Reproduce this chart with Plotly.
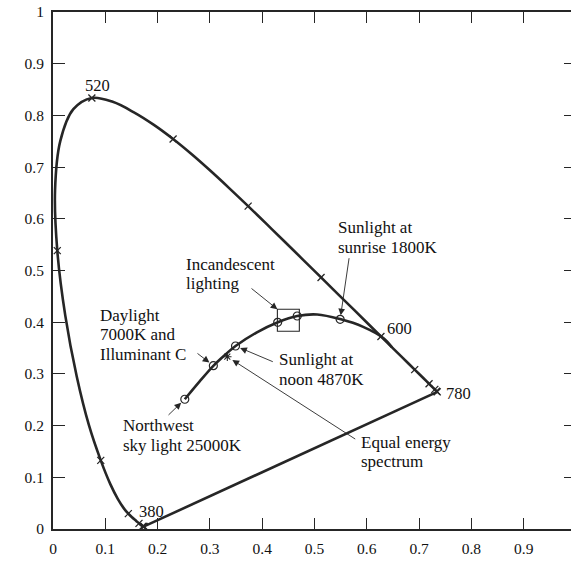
import plotly.graph_objects as go

# ---------------- data ----------------
# CIE 1931 spectral locus (wavelength nm, chromaticity x, y)
wavelengths = [380, 385, 390, 395, 400, 405, 410, 415, 420, 425, 430, 435, 440, 445,
               450, 455, 460, 465, 470, 475, 480, 485, 490, 495, 500, 505, 510, 515,
               520, 525, 530, 535, 540, 545, 550, 555, 560, 565, 570, 575, 580, 585,
               590, 595, 600, 605, 610, 615, 620, 625, 630, 635, 640, 645, 650, 655,
               660, 665, 670, 675, 680, 685, 690, 695, 700, 780]
locus_x = [0.1741, 0.1740, 0.1738, 0.1736, 0.1733, 0.1730, 0.1726, 0.1721, 0.1714, 0.1703,
           0.1689, 0.1669, 0.1644, 0.1611, 0.1566, 0.1510, 0.1440, 0.1355, 0.1241, 0.1096,
           0.0913, 0.0687, 0.0454, 0.0235, 0.0082, 0.0039, 0.0139, 0.0389, 0.0743, 0.1142,
           0.1547, 0.1929, 0.2296, 0.2658, 0.3016, 0.3373, 0.3731, 0.4087, 0.4441, 0.4788,
           0.5125, 0.5448, 0.5752, 0.6029, 0.6270, 0.6482, 0.6658, 0.6801, 0.6915, 0.7006,
           0.7079, 0.7140, 0.7190, 0.7230, 0.7260, 0.7283, 0.7300, 0.7311, 0.7320, 0.7327,
           0.7334, 0.7340, 0.7344, 0.7346, 0.7347, 0.7347]
locus_y = [0.0050, 0.0050, 0.0049, 0.0049, 0.0048, 0.0048, 0.0048, 0.0048, 0.0051, 0.0058,
           0.0069, 0.0086, 0.0109, 0.0138, 0.0177, 0.0227, 0.0297, 0.0399, 0.0578, 0.0868,
           0.1327, 0.2007, 0.2950, 0.4127, 0.5384, 0.6548, 0.7502, 0.8120, 0.8338, 0.8262,
           0.8059, 0.7816, 0.7543, 0.7243, 0.6923, 0.6589, 0.6245, 0.5896, 0.5547, 0.5202,
           0.4866, 0.4544, 0.4242, 0.3965, 0.3725, 0.3514, 0.3340, 0.3197, 0.3083, 0.2993,
           0.2920, 0.2859, 0.2809, 0.2770, 0.2740, 0.2717, 0.2700, 0.2689, 0.2680, 0.2673,
           0.2666, 0.2660, 0.2656, 0.2654, 0.2653, 0.2653]
marked_wavelengths = [380, 400, 420, 440, 460, 480, 500, 520, 540, 560, 580, 600, 620,
                      640, 660, 680, 780]
labelled_wavelengths = ["520", "380", "600", "780"]

# black-body (Planckian) locus
planck_x = [0.252, 0.280, 0.307, 0.328, 0.349, 0.389, 0.430, 0.467, 0.505, 0.549, 0.593, 0.632, 0.648]
planck_y = [0.251, 0.285, 0.316, 0.336, 0.354, 0.380, 0.400, 0.412, 0.415, 0.406, 0.391, 0.369, 0.3514]

# named light sources on the locus (circles)
source_names = ["Northwest sky light", "Daylight / Illuminant C", "Sunlight noon",
                "Incandescent 1", "Incandescent 2", "Sunlight sunrise"]
source_x = [0.252, 0.3066, 0.349, 0.4296, 0.467, 0.549]
source_y = [0.251, 0.316, 0.354, 0.3998, 0.412, 0.4056]

# equal energy point
equal_x = [0.3333]
equal_y = [0.3333]

# incandescent box corners
box_x = [0.429, 0.471]
box_y = [0.3825, 0.425]

label_sunrise = ["Sunlight at", "sunrise 1800K"]
label_incand = ["Incandescent", "lighting"]
label_daylight = ["Daylight", "7000K and", "Illuminant C"]
label_northwest = ["Northwest", "sky light 25000K"]
label_noon = ["Sunlight at", "noon 4870K"]
label_equal = ["Equal energy", "spectrum"]

x_ticks = [0, 0.1, 0.2, 0.3, 0.4, 0.5, 0.6, 0.7, 0.8, 0.9]
y_ticks = [0, 0.1, 0.2, 0.3, 0.4, 0.5, 0.6, 0.7, 0.8, 0.9, 1]

# ---------------- figure ----------------
INK = "#262626"
FONT = "Liberation Serif"
LINE_STEP = 0.0377  # vertical spacing of text lines, in y units

fig = go.Figure()

# spectral locus
fig.add_trace(go.Scatter(x=locus_x, y=locus_y, mode="lines",
                         line=dict(color=INK, width=2.6, shape="spline", smoothing=1.0),
                         hoverinfo="skip", showlegend=False))
# line of purples
fig.add_trace(go.Scatter(x=[locus_x[0], locus_x[-1]], y=[locus_y[0], locus_y[-1]], mode="lines",
                         line=dict(color=INK, width=2.6), hoverinfo="skip", showlegend=False))
# wavelength ticks
mx = [locus_x[wavelengths.index(w)] for w in marked_wavelengths]
my = [locus_y[wavelengths.index(w)] for w in marked_wavelengths]
fig.add_trace(go.Scatter(x=mx, y=my, mode="markers",
                         marker=dict(symbol="x-thin", size=7, color=INK,
                                     line=dict(color=INK, width=1.3)),
                         hoverinfo="skip", showlegend=False))
# Planckian locus
fig.add_trace(go.Scatter(x=planck_x, y=planck_y, mode="lines",
                         line=dict(color=INK, width=2.6, shape="spline", smoothing=1.0),
                         hoverinfo="skip", showlegend=False))
# light sources
fig.add_trace(go.Scatter(x=source_x, y=source_y, mode="markers",
                         marker=dict(symbol="circle-open", size=8, color=INK,
                                     line=dict(color=INK, width=1.2)),
                         hoverinfo="skip", showlegend=False))
# equal energy
fig.add_trace(go.Scatter(x=equal_x, y=equal_y, mode="markers",
                         marker=dict(symbol="asterisk-open", size=7, color=INK,
                                     line=dict(color=INK, width=1.1)),
                         hoverinfo="skip", showlegend=False))
# invisible trace for right-hand tick axis
fig.add_trace(go.Scatter(x=[0.5], y=[0.5], yaxis="y2", mode="markers",
                         marker=dict(opacity=0), hoverinfo="skip", showlegend=False))

fig.add_shape(type="rect", x0=box_x[0], x1=box_x[1], y0=box_y[0], y1=box_y[1],
              line=dict(color=INK, width=1.1))

ann = []
TXT = dict(family=FONT, size=17, color="#111")
LBL = dict(family=FONT, size=16.5, color="#111")


def text_block(lines, x, y_center):
    n = len(lines)
    top = y_center + LINE_STEP * (n - 1) / 2
    for i, t in enumerate(lines):
        ann.append(dict(x=x, y=top - i * LINE_STEP, xref="x", yref="y", text=t,
                        showarrow=False, xanchor="left", yanchor="middle",
                        font=TXT, borderpad=0))


def arrow(hx, hy, tx, ty, standoff=0):
    ann.append(dict(x=hx, y=hy, ax=tx, ay=ty, xref="x", yref="y", axref="x", ayref="y",
                    text="", showarrow=True, arrowhead=2, arrowsize=1.5, arrowwidth=0.9,
                    arrowcolor=INK, standoff=standoff))


text_block(label_sunrise, 0.5435, 0.5641)
arrow(source_x[5], source_y[5], 0.5665, 0.5267, standoff=4)

text_block(label_incand, 0.2523, 0.4929)
arrow(box_x[0], box_y[1], 0.3767, 0.4675)

text_block(label_daylight, 0.0879, 0.3762)
arrow(source_x[1], source_y[1], 0.2734, 0.3418, standoff=5)

text_block(label_northwest, 0.1313, 0.1809)
arrow(source_x[0], source_y[0], 0.218, 0.2178, standoff=5)

text_block(label_noon, 0.4307, 0.3083)
arrow(source_x[2], source_y[2], 0.4231, 0.3224, standoff=5)

text_block(label_equal, 0.5869, 0.1487)
arrow(equal_x[0], equal_y[0], 0.5807, 0.1721, standoff=6)

# wavelength labels
ann.append(dict(x=0.0855, y=0.8569, text=labelled_wavelengths[0], showarrow=False,
                xanchor="center", yanchor="middle", font=LBL))
ann.append(dict(x=0.1611, y=0.0335, text=labelled_wavelengths[1], showarrow=False,
                xanchor="left", yanchor="middle", font=LBL))
ann.append(dict(x=0.6347, y=0.3882, text=labelled_wavelengths[2], showarrow=False,
                xanchor="left", yanchor="middle", font=LBL))
ann.append(dict(x=0.7475, y=0.2625, text=labelled_wavelengths[3], showarrow=False,
                xanchor="left", yanchor="middle", font=LBL))

# axis titles
ann.append(dict(x=0.4977, y=-0.0632, text="x", showarrow=False, xanchor="center",
                yanchor="middle", font=dict(family=FONT, size=16.5, color="#111")))
ann.append(dict(x=-0.079, y=0.5, text="y", showarrow=False, xanchor="center",
                yanchor="middle", font=dict(family=FONT, size=16.5, color="#111")))

fig.update_layout(
    width=571, height=568,
    margin=dict(l=53, r=0, t=12, b=39),
    paper_bgcolor="white", plot_bgcolor="white",
    font=dict(family=FONT, size=15.5, color="#111"),
    showlegend=False,
    annotations=ann,
    xaxis=dict(range=[0, 0.9904], tickvals=x_ticks, ticktext=[f"{v:g}" for v in x_ticks],
               ticks="inside", ticklen=11, tickwidth=1.4, tickcolor=INK,
               showline=True, linewidth=2, linecolor=INK, mirror="ticks",
               showgrid=False, zeroline=False, ticklabelstandoff=4),
    yaxis=dict(range=[0, 1], tickvals=y_ticks, ticktext=[f"{v:g}" for v in y_ticks],
               ticks="inside", ticklen=12, tickwidth=1.4, tickcolor=INK,
               showline=True, linewidth=2, linecolor=INK, mirror=False,
               showgrid=False, zeroline=False, ticklabelstandoff=4),
    yaxis2=dict(range=[0, 1], overlaying="y", side="right", tickvals=y_ticks,
                ticks="inside", ticklen=7, tickwidth=1.4, tickcolor=INK,
                showline=False, showticklabels=False, showgrid=False, zeroline=False),
)

fig.write_html("out.html")
